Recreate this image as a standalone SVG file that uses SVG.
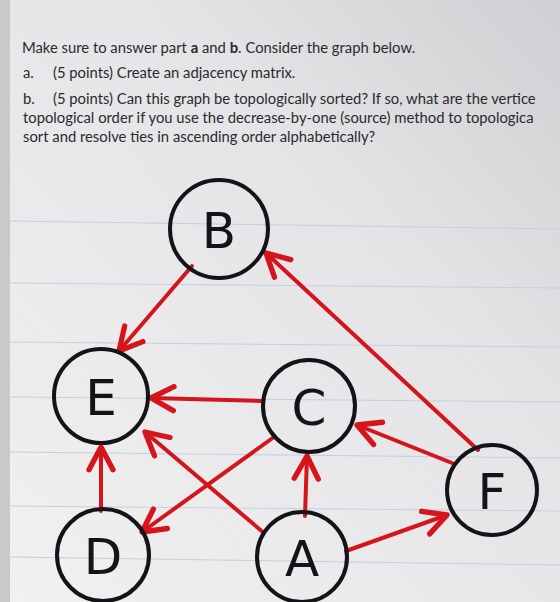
<svg xmlns="http://www.w3.org/2000/svg" width="560" height="602" viewBox="0 0 560 602">
<defs>
<linearGradient id="bg" x1="1" y1="0" x2="0" y2="1">
<stop offset="0" stop-color="#cfd0d3"/>
<stop offset="0.35" stop-color="#e4e3e6"/>
<stop offset="1" stop-color="#f1f1f1"/>
</linearGradient>
<marker id="ah" markerUnits="userSpaceOnUse" markerWidth="40" markerHeight="40" viewBox="-22 -14 30 28" refX="0" refY="0" orient="auto">
<path d="M-17,-9 L0,0 L-17,9" fill="none" stroke="#d4151b" stroke-width="4" stroke-linecap="round" stroke-linejoin="round"/>
</marker>
<style>
.t{font-family:Lato,"Open Sans",sans-serif;font-size:14.8px;fill:#2a2a2e}
.b{font-weight:bold}
.n circle{fill:none;stroke:#141418;stroke-width:4}
.n text{font-family:"DejaVu Sans",sans-serif;font-size:50px;fill:#141418;text-anchor:middle;dominant-baseline:central}
.e line{stroke:#d4151b;stroke-width:4;stroke-linecap:round;marker-end:url(#ah)}
.g{stroke:#c3cfe2;stroke-width:1;fill:none}
</style>
</defs>
<rect width="560" height="602" fill="url(#bg)"/>
<rect x="0" y="0" width="10" height="602" fill="#c9c9cc"/>
<g id="rules">
<path class="g" d="M10,221 L560,229"/>
<path class="g" d="M10,283 L560,288"/>
<path class="g" d="M10,342 L560,347"/>
<path class="g" d="M10,397 L560,402"/>
<path class="g" d="M10,452 L560,458"/>
<path class="g" d="M10,506 L560,511"/>
<path class="g" d="M10,557 L560,565"/>
</g>
<g id="question">
<text class="t" x="22" y="53">Make sure to answer part <tspan class="b">a</tspan> and <tspan class="b">b</tspan>.  Consider the graph below.</text>
<text class="t" x="23" y="78">a.</text>
<text class="t" x="53" y="78">(5 points) Create an adjacency matrix.</text>
<text class="t" x="23" y="104">b.</text>
<text class="t" x="53" y="104">(5 points) Can this graph be topologically sorted? If so, what are the vertice</text>
<text class="t" x="23" y="123">topological order if you use the decrease-by-one (source) method to topologica</text>
<text class="t" x="23" y="142">sort and resolve ties in ascending order alphabetically?</text>
</g>
<g id="connectors" class="e">
<line x1="192" y1="266" x2="119" y2="351"/>
<line x1="478" y1="450" x2="266" y2="253"/>
<line x1="262" y1="401" x2="151" y2="398"/>
<line x1="452" y1="463" x2="357" y2="425"/>
<line x1="264" y1="533" x2="145" y2="432"/>
<line x1="274" y1="437" x2="142" y2="532"/>
<line x1="305" y1="516" x2="307" y2="456"/>
<line x1="101" y1="511" x2="101" y2="447"/>
<line x1="346" y1="551" x2="447" y2="515"/>
</g>
<g id="node-B" class="n"><circle cx="219" cy="229" r="49"/><text x="219" y="231">B</text></g>
<g id="node-E" class="n"><circle cx="101" cy="396" r="47"/><text x="101" y="398">E</text></g>
<g id="node-C" class="n"><circle cx="309" cy="406" r="46"/><text x="309" y="408">C</text></g>
<g id="node-F" class="n"><circle cx="492" cy="490" r="45"/><text x="492" y="492">F</text></g>
<g id="node-D" class="n"><circle cx="103" cy="555" r="46"/><text x="103" y="557">D</text></g>
<g id="node-A" class="n"><circle cx="302" cy="557" r="45"/><text x="302" y="559">A</text></g>
</svg>
